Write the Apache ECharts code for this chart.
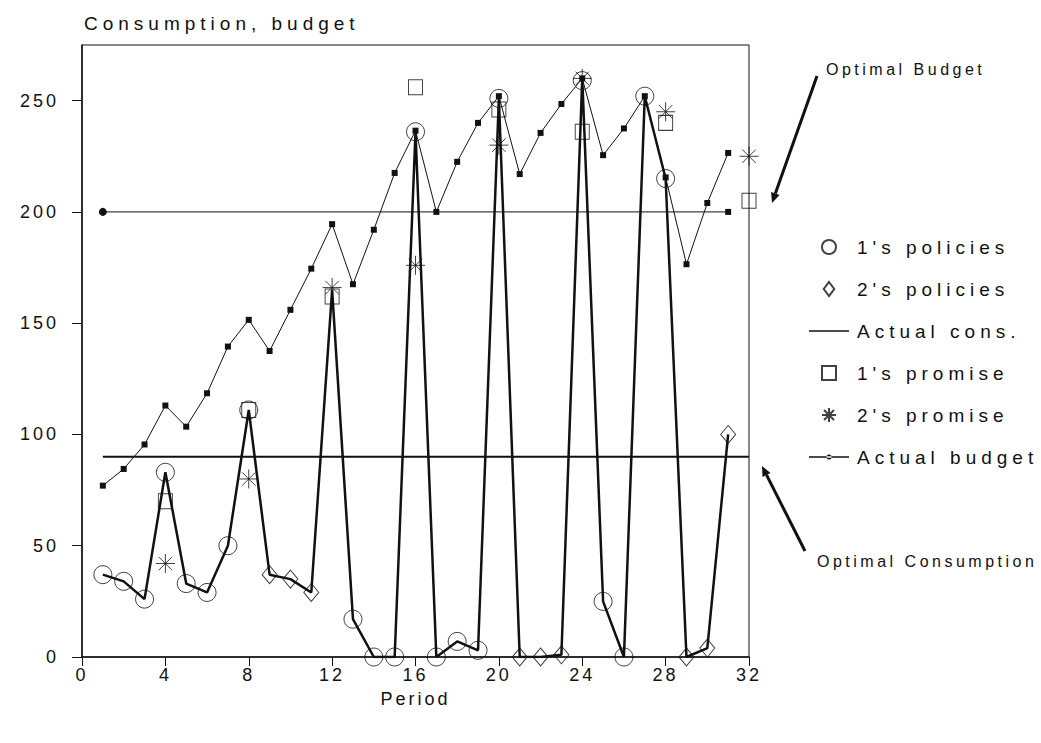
<!DOCTYPE html>
<html><head><meta charset="utf-8">
<script src="https://cdn.jsdelivr.net/npm/echarts@6/dist/echarts.min.js"></script>
<style>
html,body{margin:0;padding:0;background:#fff;}
#chart{width:1041px;height:743px;}
#chart text{letter-spacing:5px;}
#chart text[style*="18px"]{letter-spacing:3px;}
#chart text[style*="16px"]{letter-spacing:3.5px;}
</style></head><body><div id="chart"></div>
<script>
// ---- data ----
const periods = [1,2,3,4,5,6,7,8,9,10,11,12,13,14,15,16,17,18,19,20,21,22,23,24,25,26,27,28,29,30,31];
const policies1 = [37,34,26,83,33,29,50,111,null,null,null,null,17,0,0,236,0,7,3,251,null,null,null,259,25,0,252,215,null,null,null];
const policies2 = [null,null,null,null,null,null,null,null,37,35,29,null,null,null,null,null,null,null,null,null,0,0,1,null,null,null,null,null,0,4,100];
const actualCons = [37,34,26,83,33,29,50,111,37,35,29,165,17,0,0,236,0,7,3,251,0,0,1,260,25,0,252,215,0,4,100];
const actualBudget = [77,84.5,95.5,113,103.5,118.5,139.5,151.5,137.5,156,174.5,194.5,167.5,192,217.5,236.5,200,222.5,240,252,217,235.5,248.5,260,225.5,237.5,252,215.5,176.5,204,226.5];
const promisePeriods = [4,8,12,16,20,24,28,32];
const promise1 = [70,111,162,256,246,236,240,205];
const promise2 = [42,80,166,176,230,260,245,225];
const optimalBudget = 200;
const optimalCons = 90;
const optimalBudgetSpan = [1,31];
const optimalConsSpan = [1,32];
const yTicks = [0,50,100,150,200,250];
const legendNames = ["1's policies","2's policies","Actual cons.","1's promise","2's promise","Actual budget"];

// ---- helpers ----
const pairs = (xs, ys) => xs.map((x,i)=>[x, ys[i]]).filter(d=>d[1]!==null);
const FONT = 'Liberation Sans';
const BLACK = '#111';
const STAR = 'path://M0,-10L0,10M-10,0L10,0M-7.07,-7.07L7.07,7.07M-7.07,7.07L7.07,-7.07';
const DIAMOND = 'path://M6,0L12,8L6,16L0,8Z';
const SQUARE = 'path://M0,0L12,0L12,12L0,12Z';
const LINEICON = 'path://M0,0L48,0L48,1.6L0,1.6Z';
const LINEDOT = 'path://M0,2.2L48,2.2L48,3.8L0,3.8Z M21,3A3,3 0 1,0 27,3A3,3 0 1,0 21,3Z';
const legendIcons = ['circle', DIAMOND, LINEICON, SQUARE, STAR, LINEDOT];
const hollow = {color:'rgba(0,0,0,0)', borderColor:BLACK, borderWidth:1};

function arrow(tail, tip, w){
  const dx = tip[0]-tail[0], dy = tip[1]-tail[1];
  const L = Math.hypot(dx,dy), ux = dx/L, uy = dy/L;
  const hl = 10, hw = 4.5;
  const base = [tip[0]-ux*hl, tip[1]-uy*hl];
  return [
    {type:'polyline', shape:{points:[tail, base]}, style:{stroke:BLACK, lineWidth:w, fill:null}},
    {type:'polygon', shape:{points:[tip,[base[0]-uy*hw, base[1]+ux*hw],[base[0]+uy*hw, base[1]-ux*hw]]}, style:{fill:BLACK}}
  ];
}

const chart = echarts.init(document.getElementById('chart'), null, {renderer:'svg'});
const option = {
  animation:false,
  backgroundColor:'#fff',
  textStyle:{fontFamily:FONT, color:BLACK},
  title:{text:'Consumption, budget', left:79, top:9,
    textStyle:{fontFamily:FONT, fontSize:19, fontWeight:'normal', color:BLACK}},
  grid:{left:82, right:292, top:45, bottom:86, show:true, borderColor:BLACK, borderWidth:1, backgroundColor:'transparent'},
  xAxis:{type:'value', min:0, max:32, interval:4, name:'Period', nameLocation:'middle', nameGap:33,
    nameTextStyle:{fontFamily:FONT, fontSize:18, color:BLACK},
    axisLine:{lineStyle:{color:BLACK, width:1.5}},
    axisTick:{length:9, lineStyle:{color:BLACK}},
    axisLabel:{fontFamily:FONT, fontSize:18, color:BLACK, margin:9},
    splitLine:{show:false}},
  yAxis:{type:'value', min:0, max:275,
    axisLine:{show:true, lineStyle:{color:BLACK, width:1.5}},
    axisTick:{show:true, length:10, lineStyle:{color:BLACK}, customValues:yTicks},
    axisLabel:{fontFamily:FONT, fontSize:18, color:BLACK, margin:23, customValues:yTicks,
      formatter:v => (v % 50 === 0 ? String(v) : '')},
    splitLine:{show:false}},
  legend:{orient:'vertical', left:804, top:232, itemWidth:40, itemHeight:14, itemGap:22,
    data:legendNames.map((n,i)=>({name:n, icon:legendIcons[i]})),
    textStyle:{fontFamily:FONT, fontSize:19, color:BLACK, lineHeight:20, padding:[0,0,0,3]}},
  series:[
    {name:'Optimal budget', type:'line', data:[
        {value:[optimalBudgetSpan[0], optimalBudget], symbol:'circle', symbolSize:8},
        {value:[optimalBudgetSpan[1], optimalBudget], symbol:'rect', symbolSize:6}],
      showSymbol:true, lineStyle:{color:BLACK, width:1}, itemStyle:{color:BLACK}, z:2, silent:true},
    {name:'Optimal consumption', type:'line', data:optimalConsSpan.map(x=>[x, optimalCons]),
      symbol:'none', lineStyle:{color:BLACK, width:2}, z:2, silent:true},
    {name:'Actual budget', type:'line', data:pairs(periods, actualBudget),
      symbol:'rect', symbolSize:6, showAllSymbol:true,
      lineStyle:{color:BLACK, width:1}, itemStyle:{color:BLACK}, z:3},
    {name:'Actual cons.', type:'line', data:pairs(periods, actualCons),
      symbol:'none', lineStyle:{color:BLACK, width:2.5}, itemStyle:{color:BLACK}, z:4},
    {name:"1's policies", type:'scatter', data:pairs(periods, policies1),
      symbol:'circle', symbolSize:18, itemStyle:hollow, z:5},
    {name:"2's policies", type:'scatter', data:pairs(periods, policies2),
      symbol:'diamond', symbolSize:[15,18], itemStyle:hollow, z:5},
    {name:"1's promise", type:'scatter', data:pairs(promisePeriods, promise1),
      symbol:'rect', symbolSize:[14,15], itemStyle:hollow, z:5},
    {name:"2's promise", type:'scatter', data:pairs(promisePeriods, promise2),
      symbol:STAR, symbolSize:19, itemStyle:{color:BLACK, borderColor:BLACK, borderWidth:1}, z:6}
  ]
};
chart.setOption(option);

const annText = (txt, x, y) => ({type:'text', x:x, y:y,
  style:{text:txt, fontFamily:FONT, fontSize:16, fill:BLACK, textVerticalAlign:'middle'}});
chart.setOption({graphic:[
  annText('Optimal Budget', 826, 69),
  ...arrow([817,76],[772,203],3),
  annText('Optimal Consumption', 817, 561),
  ...arrow([805,551],[762,466],3)
]});
</script></body></html>
